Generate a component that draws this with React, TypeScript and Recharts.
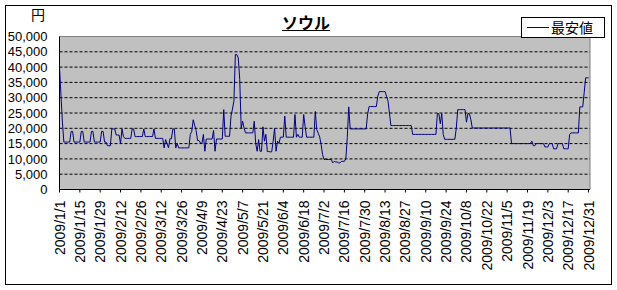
import React from 'react';
import { LineChart, Line, XAxis, YAxis, CartesianGrid, Legend, ReferenceArea } from 'recharts';

// Daily cheapest fares (yen), month by month (2009)
const jan = [40000, 31000, 22000, 15500, 15500, 15500, 15500, 15500, 19000, 19000, 15500, 15500, 15500, 15500, 15500, 19000, 19000, 15500, 15500, 15500, 15500, 15500, 19000, 19000, 15500, 15500, 15500, 15500, 15500, 19000, 19000];
const feb = [15500, 15500, 14300, 14300, 14300, 19800, 19800, 19800, 17800, 17800, 17800, 15000, 19800, 17300, 16700, 16700, 16700, 16700, 16700, 19800, 19800, 17300, 17300, 17300, 17300, 17300, 17300, 19800];
const mar = [17300, 17300, 17300, 17300, 17300, 17300, 19800, 16700, 16700, 16700, 16700, 16700, 16700, 13600, 16300, 15000, 13600, 16600, 16600, 19800, 19800, 13600, 15000, 13600, 13600, 13600, 13600, 13600, 13600, 13600, 13600];
const apr = [18000, 19000, 22800, 21000, 19300, 16000, 16000, 15200, 15000, 18000, 12500, 16500, 16500, 16500, 16500, 16500, 19300, 12500, 16500, 16500, 16500, 16500, 16500, 26100, 17400, 17400, 17400, 17400, 24000, 26300];
const may = [28900, 44100, 44100, 43000, 36000, 20100, 22300, 20000, 18500, 18500, 18500, 18500, 18500, 18500, 22300, 15000, 12500, 16300, 12500, 12500, 20500, 15800, 18000, 12400, 12400, 12300, 12300, 15800, 20000, 12500, 15800];
const jun = [15000, 17100, 17100, 17100, 24000, 17100, 17100, 17100, 17100, 17100, 17100, 24500, 17100, 18000, 17100, 17100, 17100, 24500, 20500, 17100, 17100, 17100, 17100, 17100, 17100, 25500, 19600, 18400, 17200, 14700];
const jul = [11400, 9800, 9800, 9800, 9800, 9800, 9800, 8700, 9200, 9000, 9000, 8700, 8700, 9200, 9200, 9200, 10000, 17000, 27000, 19800, 19800, 19800, 19800, 19800, 19800, 19800, 19800, 19800, 19800, 19800, 19800];
const aug = [24700, 27100, 27100, 27100, 27100, 27100, 27100, 30500, 32000, 32000, 32000, 32000, 32000, 30500, 29000, 25000, 20900, 20900, 20900, 20900, 20900, 20900, 20900, 20900, 20900, 20900, 20900, 20900, 20900, 20900, 20900];
const sep = [18000, 18000, 18000, 18000, 18000, 18000, 18000, 18000, 18000, 18000, 18000, 18000, 18000, 18000, 18000, 18000, 18000, 24800, 24800, 21500, 24800, 18000, 16400, 16400, 16400, 16400, 16400, 16400, 16400, 16400];
const oct = [20000, 26100, 26100, 26100, 26100, 26100, 26100, 22000, 24800, 24800, 22900, 20100, 20100, 20100, 20100, 20100, 20100, 20100, 20100, 20100, 20100, 20100, 20100, 20100, 20100, 20100, 20100, 20100, 20100, 20100, 20100];
const nov = [20100, 20100, 20100, 20100, 20100, 20100, 20100, 15000, 15000, 15000, 15000, 15000, 15000, 15000, 15000, 15000, 15000, 15000, 15000, 15000, 15000, 15800, 14300, 14300, 15000, 15000, 15000, 15000, 15000, 15000];
const dec = [13900, 13900, 13900, 15000, 15000, 15000, 13300, 13300, 13300, 15000, 15000, 15000, 15000, 13300, 13300, 13300, 13300, 18000, 18500, 18500, 18500, 18500, 18500, 18500, 27000, 27000, 27000, 31600, 36500, 36500, 36500];

const months = [jan, feb, mar, apr, may, jun, jul, aug, sep, oct, nov, dec];

const xTickDays = [0, 14, 28, 42, 56, 70, 84, 98, 112, 126, 140, 154, 168, 182, 196, 210, 224, 238, 252, 266, 280, 294, 308, 322, 336, 350, 364];
const xTickLabels = ['2009/1/1', '2009/1/15', '2009/1/29', '2009/2/12', '2009/2/26', '2009/3/12', '2009/3/26', '2009/4/9', '2009/4/23', '2009/5/7', '2009/5/21', '2009/6/4', '2009/6/18', '2009/7/2', '2009/7/16', '2009/7/30', '2009/8/13', '2009/8/27', '2009/9/10', '2009/9/24', '2009/10/8', '2009/10/22', '2009/11/5', '2009/11/19', '2009/12/3', '2009/12/17', '2009/12/31'];
const yTicks = [0, 5000, 10000, 15000, 20000, 25000, 30000, 35000, 40000, 45000, 50000];
const gridValues = [5000, 10000, 15000, 20000, 25000, 30000, 35000, 40000, 45000];

const title = 'ソウル';
const unit = '円';
const seriesName = '最安値';

const data: { d: number; price: number }[] = [];
{
  let d = 0;
  months.forEach((arr) => {
    arr.forEach((v) => {
      data.push({ d, price: v });
      d += 1;
    });
  });
}

const NUM_FONT = '"Liberation Sans", Arial, sans-serif';
const JP_FONT = '"Noto Sans CJK JP", sans-serif';

const XTick = (props: any) => {
  const { x, y, payload } = props;
  const idx = xTickDays.indexOf(payload.value);
  const label = idx >= 0 ? xTickLabels[idx] : '';
  const tx = x + 5;
  const ty = y + 6;
  return (
    <text
      x={tx}
      y={ty}
      transform={`rotate(-90, ${tx}, ${ty})`}
      textAnchor="end"
      fontSize={14}
      fontFamily={NUM_FONT}
      fill="#000"
    >
      {label}
    </text>
  );
};

const LegendBox = () => (
  <div
    style={{
      boxSizing: 'border-box',
      width: 84,
      height: 21,
      border: '1px solid #000',
      background: '#fff',
      display: 'flex',
      alignItems: 'center',
      paddingLeft: 5,
    }}
  >
    <svg width={22} height={3} style={{ display: 'block' }}>
      <line x1={0} y1={1.5} x2={22} y2={1.5} stroke="#000080" strokeWidth={1} />
    </svg>
    <span style={{ fontFamily: JP_FONT, fontSize: 14, lineHeight: '19px', marginLeft: 2, color: '#000' }}>{seriesName}</span>
  </div>
);

export default function App() {
  return (
    <div style={{ position: 'absolute', left: 0, top: 0, width: 617, height: 290, background: '#fff' }}>
      <LineChart width={617} height={290} data={data} margin={{ top: 36.5, right: 27, left: 9.5, bottom: 0 }}>
        <CartesianGrid
          vertical={false}
          horizontalValues={gridValues}
          stroke="#000"
          strokeDasharray="3 2"
          fill="#C0C0C0"
          fillOpacity={1}
        />
        <ReferenceArea x1={0} x2={365} y1={0} y2={50000} fill="none" stroke="#808080" strokeWidth={1} ifOverflow="visible" />
        <XAxis
          type="number"
          dataKey="d"
          domain={[0, 365]}
          ticks={xTickDays}
          interval={0}
          height={100.5}
          tickSize={3}
          tickLine={{ stroke: '#000' }}
          axisLine={{ stroke: '#000' }}
          tick={<XTick />}
          allowDataOverflow
        />
        <YAxis
          type="number"
          domain={[0, 50000]}
          ticks={yTicks}
          interval={0}
          width={50}
          tickLine={false}
          tickMargin={6}
          axisLine={{ stroke: '#000' }}
          tick={{ fill: '#000', fontSize: 13, fontFamily: NUM_FONT }}
          tickFormatter={(v: number) => v.toLocaleString('en-US')}
        />
        <Legend
          layout="horizontal"
          verticalAlign="middle"
          align="center"
          content={() => <LegendBox />}
          wrapperStyle={{ position: 'absolute', left: 521, top: 17, width: 84, height: 21 }}
        />
        <Line
          type="linear"
          dataKey="price"
          name={seriesName}
          stroke="#000080"
          strokeWidth={1}
          dot={false}
          activeDot={false}
          isAnimationActive={false}
        />
      </LineChart>
      <div
        style={{
          position: 'absolute',
          left: 0,
          width: 612,
          top: 12,
          textAlign: 'center',
          fontFamily: JP_FONT,
          fontSize: 16,
          fontWeight: 'bold',
          lineHeight: '20px',
          pointerEvents: 'none',
        }}
      >
        <span style={{ textDecoration: 'underline' }}>{title}</span>
      </div>
      <div
        style={{
          position: 'absolute',
          left: 31,
          top: 5,
          fontFamily: JP_FONT,
          fontSize: 14,
          lineHeight: '18px',
          pointerEvents: 'none',
        }}
      >
        {unit}
      </div>
      <div
        style={{
          position: 'absolute',
          left: 5,
          top: 5,
          width: 607,
          height: 280,
          boxSizing: 'border-box',
          border: '1px solid #000',
          pointerEvents: 'none',
        }}
      />
    </div>
  );
}
